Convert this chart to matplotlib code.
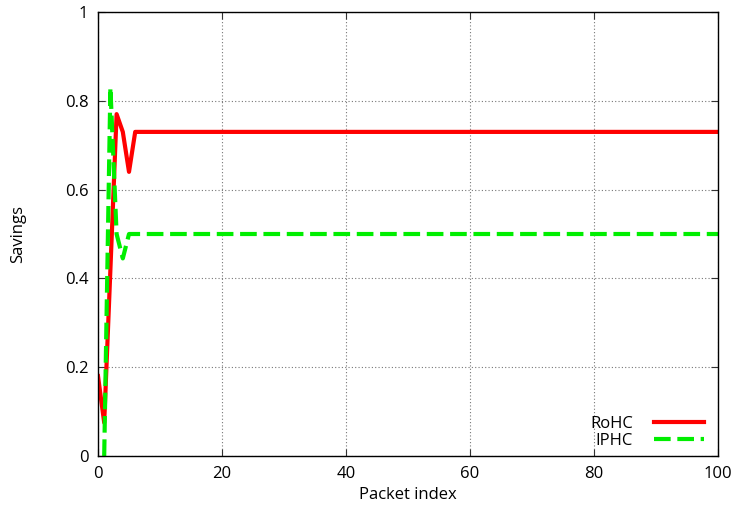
import matplotlib.pyplot as plt

# header compression savings per packet
packet_rohc = [0, 1, 2, 3, 4, 5] + list(range(6, 101))
savings_rohc = [0.18, 0.075, 0.42, 0.77, 0.73, 0.64] + [0.73] * 95

packet_iphc = [1, 2, 3, 4, 5] + list(range(6, 101))
savings_iphc = [0.0, 0.83, 0.50, 0.445, 0.50] + [0.50] * 95

xticks = [0, 20, 40, 60, 80, 100]
yticks = [0, 0.2, 0.4, 0.6, 0.8, 1]
ytick_labels = ['0', '0.2', '0.4', '0.6', '0.8', '1']

plt.rcParams['font.family'] = ['Open Sans', 'DejaVu Sans']

fig = plt.figure(figsize=(7.43, 5.16), dpi=100)
ax = fig.add_axes([0.1319, 0.1163, 0.8345, 0.8604])

ax.plot(packet_rohc, savings_rohc, color='#ff0000', linewidth=3.0, label='RoHC')
ax.plot(packet_iphc, savings_iphc, color='#00ee00', linewidth=3.0,
        dashes=(4, 1.6), label='IPHC')

ax.set_xlim(0, 100)
ax.set_ylim(0, 1)
ax.set_xticks(xticks)
ax.set_yticks(yticks)
ax.set_yticklabels(ytick_labels)
ax.tick_params(direction='in', top=True, right=True, length=5, width=0.8,
               labelsize=12, pad=7, color='#333333')
ax.grid(True, linestyle=(0, (1, 2)), color='#777777', linewidth=0.8)
for s in ax.spines.values():
    s.set_linewidth(1.0)

ax.set_xlabel('Packet index', fontsize=12, labelpad=4)
ax.set_ylabel('Savings', fontsize=12, labelpad=28)

leg = ax.legend(loc='lower right', frameon=False, fontsize=12, markerfirst=False,
                handlelength=3.0, handletextpad=1.3, borderaxespad=0.6,
                labelspacing=0.05, bbox_to_anchor=(1.005, -0.022))
for t in leg.get_texts():
    t.set_ha('right')
leg._legend_box.align = 'right'

plt.savefig('out.png', dpi=100)
